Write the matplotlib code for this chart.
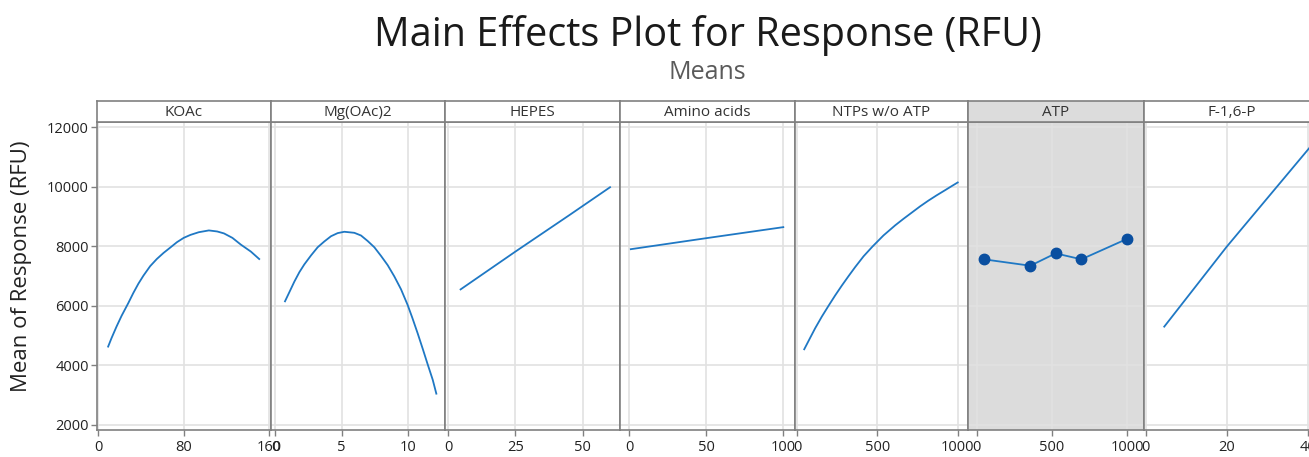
import matplotlib.pyplot as plt

plt.rcParams['font.family'] = ['Open Sans', 'DejaVu Sans']

# factor names shown in the panel headers
factors = ['KOAc', 'Mg(OAc)2', 'HEPES', 'Amino acids', 'NTPs w/o ATP', 'ATP', 'F-1,6-P']

# fitted means
koac_x = [9.5, 12.6, 17.3, 22.0, 28.3, 33.0, 37.7, 42.4, 48.7, 54.9, 61.2, 67.5,
          73.7, 80.0, 86.3, 94.1, 103.5, 111.3, 117.6, 125.5, 133.3, 142.7, 150.5]
koac_y = [4630, 4910, 5300, 5660, 6090, 6430, 6740, 7010, 7330, 7570, 7775, 7955,
          8135, 8280, 8380, 8470, 8530, 8495, 8430, 8280, 8055, 7820, 7570]
mg_x = [0.75, 1.08, 1.45, 1.83, 2.2, 2.7, 3.2, 3.7, 4.2, 4.7, 5.2, 5.95, 6.45,
        6.95, 7.45, 7.95, 8.45, 8.95, 9.45, 9.95, 10.3, 10.7, 11.08, 11.45, 11.83, 12.1]
mg_y = [6150, 6460, 6810, 7130, 7390, 7690, 7965, 8160, 8335, 8440, 8485, 8450, 8360,
        8175, 7965, 7675, 7365, 6985, 6555, 6025, 5595, 5075, 4555, 4035, 3515, 3050]
hepes_x = [4.6, 25, 45, 60.2]
hepes_y = [6550, 7820, 9040, 9980]
amino_x = [1, 50, 100]
amino_y = [7900, 8270, 8640]
ntps_x = [43.5, 81, 112, 153.5, 195, 236.5, 278, 319.5, 361, 413, 469, 537, 610,
          662, 714, 766, 817, 869, 921, 963, 1000]
ntps_y = [4540, 4930, 5250, 5640, 6000, 6350, 6680, 6995, 7300, 7660, 7990, 8360,
          8700, 8920, 9130, 9340, 9530, 9710, 9880, 10020, 10140]
atp_x = [48, 356, 524, 695, 1000]
atp_y = [7560, 7345, 7760, 7560, 8250]
f16p_x = [4.6, 20, 40.8]
f16p_y = [5300, 7980, 11360]

xs = [koac_x, mg_x, hepes_x, amino_x, ntps_x, atp_x, f16p_x]
ys = [koac_y, mg_y, hepes_y, amino_y, ntps_y, atp_y, f16p_y]

xticks = [[0, 80, 160], [0, 5, 10], [0, 25, 50], [0, 50, 100],
          [0, 500, 1000], [0, 500, 1000], [0, 20, 40]]
yticks = [2000, 4000, 6000, 8000, 10000, 12000]

# layout (pixels in the 1309x457 figure)
W, H = 1309, 457
edges = [97, 271, 445, 620, 795, 968, 1144, 1319]
xlims = [(-0.9, 161.5), (-0.3, 12.75), (-1.2, 63.9), (-6, 107.6),
         (-14, 1064), (-58, 1111), (-0.4, 42.8)]
plot_top, plot_bot, head_top = 122, 430, 101

frame = '#808080'
grid = '#e2e2e2'
line_c = '#1f78c4'
dot_c = '#0a4fa0'
shade = '#dcdcdc'

fig = plt.figure(figsize=(W / 100, H / 100), dpi=100)

for i, name in enumerate(factors):
    x0, x1 = edges[i], edges[i + 1]
    bg = shade if name == 'ATP' else 'white'
    ax = fig.add_axes([x0 / W, 1 - plot_bot / H, (x1 - x0) / W, (plot_bot - plot_top) / H])
    ax.set_facecolor(bg)
    if name == 'ATP':
        ax.plot(xs[i], ys[i], color=line_c, lw=1.3, marker='o', ms=7.5,
                mfc=dot_c, mec=dot_c, zorder=3)
    else:
        ax.plot(xs[i], ys[i], color=line_c, lw=1.3, zorder=3)
    ax.set_xlim(*xlims[i])
    ax.set_ylim(1830, 12170)
    ax.set_xticks(xticks[i])
    ax.set_yticks(yticks)
    ax.grid(True, color=grid, lw=1.2, zorder=0)
    ax.set_axisbelow(True)
    for s in ax.spines.values():
        s.set_color(frame)
        s.set_linewidth(1.2)
    ax.tick_params(axis='x', direction='out', length=4, width=1, color=frame,
                   labelsize=10.5, pad=3, labelcolor='#222222')
    if i == 0:
        ax.tick_params(axis='y', direction='out', length=4, width=1, color=frame,
                       labelsize=10.5, pad=2, labelcolor='#222222')
    else:
        ax.tick_params(axis='y', left=False, labelleft=False)

    # header strip with factor name
    hx = fig.add_axes([x0 / W, 1 - plot_top / H, (x1 - x0) / W, (plot_top - head_top) / H])
    hx.set_facecolor(bg)
    hx.set_xticks([])
    hx.set_yticks([])
    for s in hx.spines.values():
        s.set_color(frame)
        s.set_linewidth(1.2)
    hx.text(0.5, 0.45, name, ha='center', va='center', fontsize=11,
            color='#333333', transform=hx.transAxes)

fig.text(707.5 / W, 1 - 35 / H, 'Main Effects Plot for Response (RFU)',
         ha='center', va='center', fontsize=28.5, color='#1a1a1a')
fig.text(707.5 / W, 1 - 72 / H, 'Means', ha='center', va='center',
         fontsize=18, color='#5a5a5a')
fig.text(22 / W, 1 - 266 / H, 'Mean of Response (RFU)', rotation=90,
         ha='center', va='center', fontsize=16, color='#222222')

fig.savefig('out.png', dpi=100)
